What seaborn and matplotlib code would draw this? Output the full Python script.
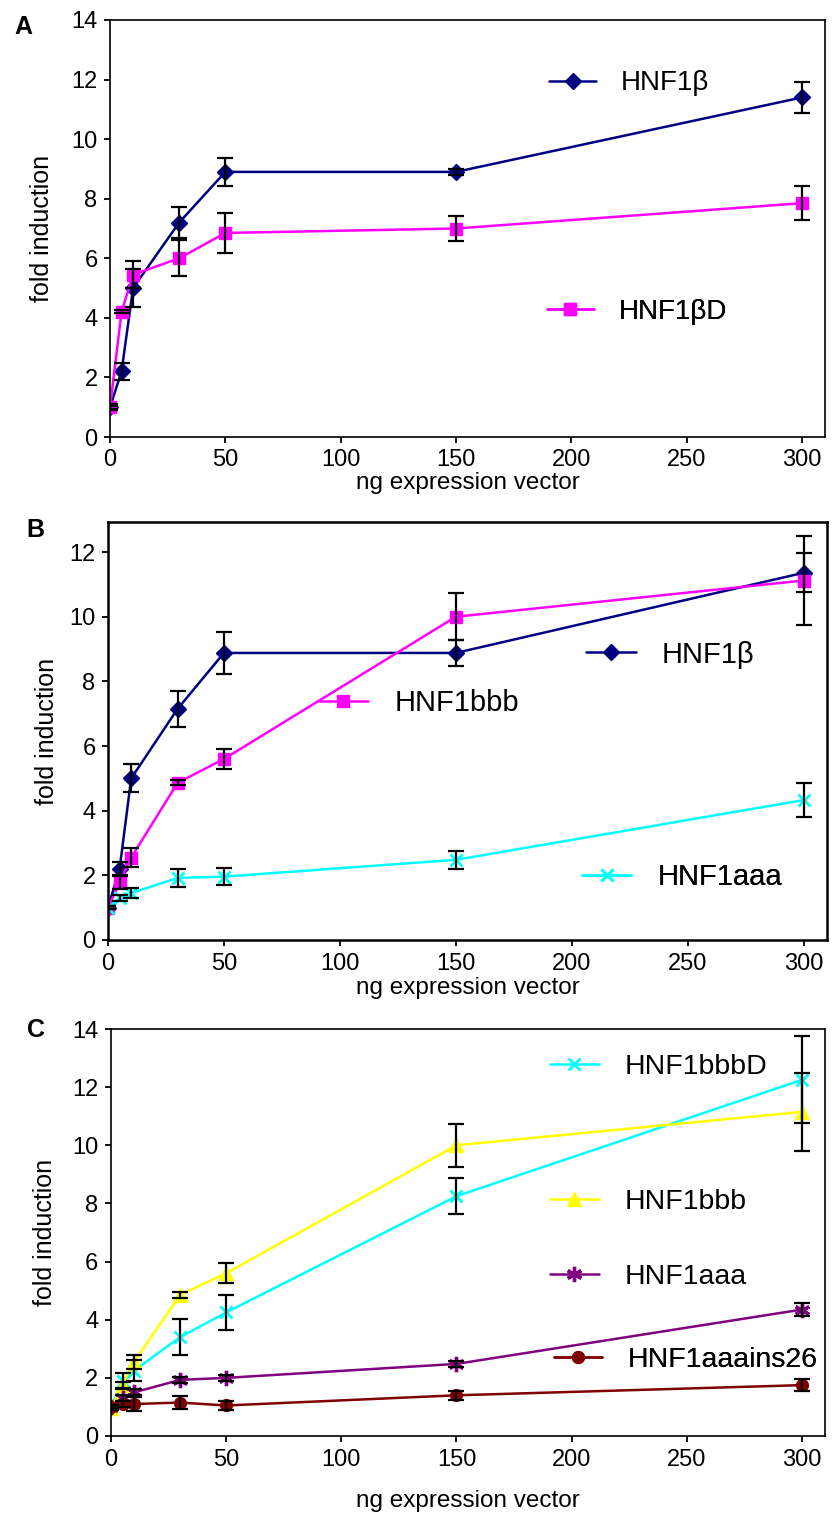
import matplotlib
matplotlib.use("Agg")
import matplotlib.pyplot as plt
import seaborn as sns

# ng of expression vector transfected
dose = [0, 5, 10, 30, 50, 150, 300]

# panel A
a_hnf1b = [1.0, 2.2, 5.0, 7.2, 8.9, 8.9, 11.4]
a_hnf1b_err = [0.1, 0.3, 0.65, 0.53, 0.48, 0.1, 0.52]
a_hnf1bD = [1.0, 4.2, 5.45, 6.0, 6.85, 7.0, 7.85]
a_hnf1bD_err = [0.05, 0.05, 0.45, 0.6, 0.67, 0.42, 0.58]

# panel B
b_hnf1b = [1.0, 2.2, 5.0, 7.15, 8.88, 8.88, 11.36]
b_hnf1b_err = [0.05, 0.2, 0.43, 0.56, 0.65, 0.4, 0.6]
b_hnf1bbb = [1.0, 1.78, 2.55, 4.86, 5.6, 10.0, 11.12]
b_hnf1bbb_err = [0.05, 0.2, 0.3, 0.08, 0.32, 0.73, 1.37]
b_hnf1aaa = [1.0, 1.3, 1.45, 1.92, 1.96, 2.48, 4.33]
b_hnf1aaa_err = [0.05, 0.1, 0.15, 0.28, 0.27, 0.27, 0.54]

# panel C
c_hnf1bbbD = [1.0, 1.9, 2.25, 3.4, 4.25, 8.25, 12.25]
c_hnf1bbbD_err = [0.05, 0.27, 0.35, 0.63, 0.59, 0.63, 1.5]
c_hnf1bbb = [0.95, 1.75, 2.55, 4.85, 5.6, 10.0, 11.15]
c_hnf1bbb_err = [0.05, 0.1, 0.25, 0.1, 0.35, 0.73, 1.35]
c_hnf1aaa = [1.0, 1.3, 1.5, 1.93, 2.0, 2.48, 4.35]
c_hnf1aaa_err = [0.05, 0.1, 0.1, 0.1, 0.1, 0.1, 0.22]
c_hnf1aaains26 = [1.0, 1.1, 1.1, 1.15, 1.05, 1.4, 1.75]
c_hnf1aaains26_err = [0.05, 0.1, 0.25, 0.22, 0.15, 0.15, 0.2]

x_ticks = [0, 50, 100, 150, 200, 250, 300]

sns.set_style("ticks")
plt.rcParams["font.family"] = ["Liberation Sans", "DejaVu Sans"]
plt.rcParams["text.color"] = "black"
plt.rcParams["axes.labelcolor"] = "black"

W, H = 833, 1519
fig = plt.figure(figsize=(W / 100, H / 100), dpi=100)


def box(l, t, r, b):
    return [l / W, 1 - b / H, (r - l) / W, (b - t) / H]


def series(ax, y, err, color, marker, ms=8, mew=1.0):
    sns.lineplot(x=dose, y=y, ax=ax, color=color, marker=marker, markersize=ms,
                 markeredgecolor=color, markeredgewidth=mew, linewidth=1.8,
                 legend=False, zorder=2)
    line = ax.lines[-1]
    ax.errorbar(dose, y, yerr=err, fmt="none", ecolor="black", elinewidth=1.6,
                capsize=6, capthick=1.6, zorder=3)
    return line


def key(ax, handle, text, x, y, size):
    leg = ax.legend([handle], [text], loc="center left", bbox_to_anchor=(x, y),
                    frameon=False, fontsize=size, handlelength=1.7,
                    handletextpad=0.9, borderpad=0, borderaxespad=0, numpoints=1)
    ax.add_artist(leg)


def style(ax, ymax, yticks, spine_w, lab_x, labelpad):
    ax.set_xlim(0, 310)
    ax.set_ylim(0, ymax)
    ax.set_xticks(x_ticks)
    ax.set_yticks(yticks)
    ax.tick_params(labelsize=17, length=4, width=1.3, pad=5,
                   color="black", labelcolor="black")
    for s in ax.spines.values():
        s.set_visible(True)
        s.set_linewidth(spine_w)
        s.set_color("black")
    ax.set_ylabel("fold induction", fontsize=18)
    ax.yaxis.set_label_coords(lab_x, 0.5)
    ax.set_xlabel("ng expression vector", fontsize=17.5, labelpad=labelpad)


# ---- A ----
axA = fig.add_axes(box(110, 20, 825, 437))
h1 = series(axA, a_hnf1b, a_hnf1b_err, "#000080", "D", ms=8.5)
h2 = series(axA, a_hnf1bD, a_hnf1bD_err, "#FF00FF", "s", ms=8)
style(axA, 14, range(0, 15, 2), 1.2, -0.078, 0.5)
key(axA, h1, "HNF1β", 0.614, 0.848, 20)
key(axA, h2, "HNF1βD", 0.611, 0.300, 20)
fig.text(23 / W, 1 - 27 / H, "A", fontsize=18, fontweight="bold", ha="center", va="center")

# ---- B ----
axB = fig.add_axes(box(108, 522, 827, 940))
h1 = series(axB, b_hnf1b, b_hnf1b_err, "#000080", "D", ms=8.5)
h2 = series(axB, b_hnf1bbb, b_hnf1bbb_err, "#FF00FF", "s", ms=8)
h3 = series(axB, b_hnf1aaa, b_hnf1aaa_err, "#00FFFF", "x", ms=8, mew=2)
style(axB, 12.93, range(0, 13, 2), 1.8, -0.068, 2)
key(axB, h1, "HNF1β", 0.665, 0.683, 21)
key(axB, h2, "HNF1bbb", 0.293, 0.567, 21)
key(axB, h3, "HNF1aaa", 0.659, 0.151, 21)
fig.text(35 / W, 1 - 530 / H, "B", fontsize=18, fontweight="bold", ha="center", va="center")

# ---- C ----
axC = fig.add_axes(box(111, 1029, 825, 1436))
h1 = series(axC, c_hnf1bbbD, c_hnf1bbbD_err, "#00FFFF", "x", ms=9, mew=2)
h2 = series(axC, c_hnf1bbb, c_hnf1bbb_err, "#FFFF00", "^", ms=10)
h3 = series(axC, c_hnf1aaa, c_hnf1aaa_err, "#800080", (6, 2, 0), ms=11, mew=2.4)
h4 = series(axC, c_hnf1aaains26, c_hnf1aaains26_err, "#800000", "o", ms=8.5)
style(axC, 14, range(0, 15, 2), 1.2, -0.0756, 14)
key(axC, h1, "HNF1bbbD", 0.615, 0.906, 20.5)
key(axC, h2, "HNF1bbb", 0.615, 0.576, 20.5)
key(axC, h3, "HNF1aaa", 0.615, 0.391, 20.5)
key(axC, h4, "HNF1aaains26", 0.620, 0.187, 20.5)
fig.text(36 / W, 1 - 1030 / H, "C", fontsize=18, fontweight="bold", ha="center", va="center")

fig.savefig("out.png", dpi=100, facecolor="white")
